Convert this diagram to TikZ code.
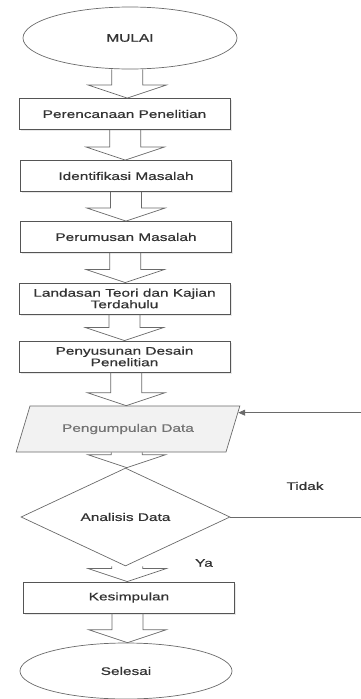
\documentclass[tikz,border=0pt]{standalone}
\usepackage{fontspec}
\usepackage{xcolor}
\usepackage{tikz}
\usetikzlibrary{shapes.geometric,arrows.meta,calc,shadows}
\newfontfamily\flowfont[FakeStretch=1.4,FakeBold=0.6]{Liberation Sans}
\definecolor{linegray}{HTML}{6A6A6A}
\definecolor{boxgray}{HTML}{555555}
\definecolor{txtgray}{HTML}{333333}
\definecolor{datafill}{HTML}{F2F2F2}

\begin{document}
\begin{tikzpicture}[x=1pt,y=-1pt,
    every node/.style={font=\flowfont\fontsize{11}{11.5}\selectfont,text=txtgray},
    process/.style={rectangle,draw=boxgray,line width=0.9pt,fill=white,
        minimum width=211pt,minimum height=31pt,inner sep=1pt,align=center,
        drop shadow={opacity=0.18,shadow xshift=1.5pt,shadow yshift=-1.5pt}},
    terminal/.style={ellipse,draw=linegray,line width=0.7pt,fill=white},
    blockarr/.style={draw=linegray,line width=0.7pt},
    loopline/.style={draw=linegray,line width=0.7pt,-{Triangle[length=7pt,width=6pt]}}]
    \useasboundingbox (0,0) rectangle (361,699);
    \clip (0,0) rectangle (361,699);

    \node[terminal,minimum width=214pt,minimum height=62pt] (mulai) at (130,38) {MULAI};
    \node[process] (rencana) at (124.5,114) {Perencanaan Penelitian};
    \node[process] (identifikasi) at (126,176) {Identifikasi Masalah};
    \node[process] (rumusan) at (126,237) {Perumusan Masalah};
    \node[process] (landasan) at (124.5,298.5) {Landasan Teori dan Kajian\\Terdahulu};
    \node[process] (desain) at (124.5,356.5) {Penyusunan Desain\\Penelitian};
    \node[trapezium,trapezium left angle=60,trapezium right angle=120,
        trapezium stretches=true,minimum width=224pt,minimum height=46pt,
        draw=linegray,line width=0.7pt,fill=datafill,text=gray!90!black] (data) at (128,429) {Pengumpulan Data};
    \node[diamond,draw=linegray,line width=0.7pt,minimum width=209pt,minimum height=72pt,
        inner sep=0pt] (analisis) at (125.5,517) {Analisis Data};
    \node[process] (simpulan) at (129,597.5) {Kesimpulan};
    \node[terminal,minimum width=212pt,minimum height=56pt] (selesai) at (126,671) {Selesai};

    % block arrows between the steps
    \foreach \src/\dst in {mulai/rencana,rencana/identifikasi,identifikasi/rumusan,
        rumusan/landasan,landasan/desain,desain/data,data/analisis,
        analisis/simpulan,simpulan/selesai}
        \draw[blockarr] let \p1=(\src.south), \p2=(\dst.north), \p3=($(\p1)!0.5!(\p2)$) in
            (\x3-15.5pt,\y1) -- (\x3-15.5pt,\y2+13pt) -- (\x3-39pt,\y2+13pt) -- (\x3,\y2)
            -- (\x3+39pt,\y2+13pt) -- (\x3+15.5pt,\y2+13pt) -- (\x3+15.5pt,\y1);

    % back to data collection
    \coordinate (rightedge) at (362,0);
    \draw[loopline] (analisis.east) -- (analisis.east -| rightedge)
        |- ($(data.top right corner)!0.15!(data.bottom right corner)$);

    \node (tidak) at (305,486) {Tidak};
    \node (ya) at (204,563) {Ya};
\end{tikzpicture}
\end{document}
